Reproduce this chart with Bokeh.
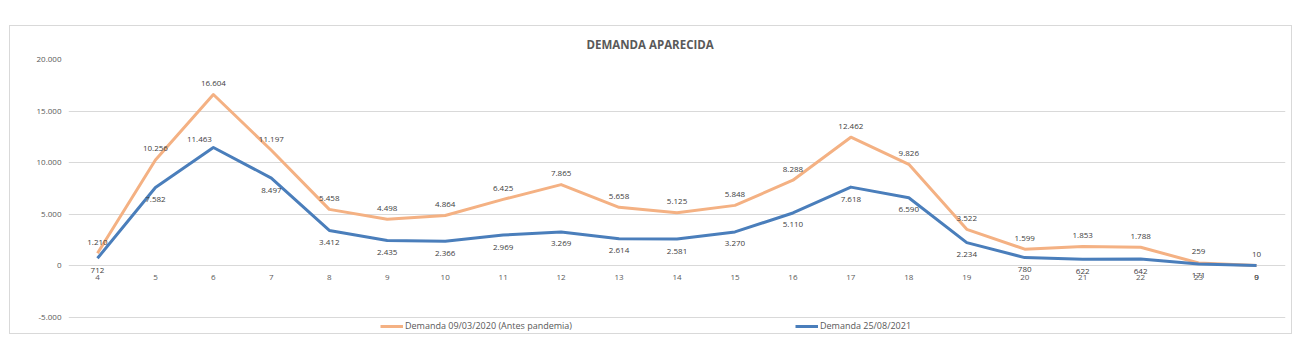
from bokeh.plotting import figure
from bokeh.models import (ColumnDataSource, Legend, LegendItem, FixedTicker, Title, Range1d)
from bokeh.core.properties import value
from bokeh.embed import file_html
from bokeh.resources import INLINE

# ---- data ----
hours = ["4", "5", "6", "7", "8", "9", "10", "11", "12", "13", "14", "15",
         "16", "17", "18", "19", "20", "21", "22", "23", "0"]
demanda_2020 = [1210, 10256, 16604, 11197, 5458, 4498, 4864, 6425, 7865, 5658, 5125,
                5848, 8288, 12462, 9826, 3522, 1599, 1853, 1788, 259, 10]
demanda_2021 = [712, 7582, 11463, 8497, 3412, 2435, 2366, 2969, 3269, 2614, 2581,
                3270, 5110, 7618, 6590, 2234, 780, 622, 642, 171, 9]
y_ticks = [-5000, 0, 5000, 10000, 15000, 20000]
y_tick_labels = ["-5.000", "0", "5.000", "10.000", "15.000", "20.000"]
title_text = "DEMANDA APARECIDA"
name_2020 = "Demanda 09/03/2020 (Antes pandemia)"
name_2021 = "Demanda 25/08/2021"

ORANGE = "#F4B183"
BLUE = "#4A7EBB"
GRID = "#D9D9D9"
TXT = "#595959"
FONT = "Open Sans"


def fmt(v):
    return f"{v:,}".replace(",", ".")


idx = list(range(len(hours)))
src = ColumnDataSource(dict(
    x=idx, cat=hours, zero=[0] * len(hours),
    o=demanda_2020, b=demanda_2021,
    ol=[fmt(v) for v in demanda_2020], bl=[fmt(v) for v in demanda_2021],
))

p = figure(width=1283, height=309, output_backend="svg", toolbar_location=None,
           x_range=Range1d(-0.5, len(hours) - 0.5), y_range=Range1d(-6680, 20000),
           x_axis_location=None, min_border_left=58, min_border_right=8,
           min_border_top=33, min_border_bottom=1)
p.margin = (25, 0, 0, 9)
p.styles = {"border": f"1px solid {GRID}"}
p.outline_line_color = None
p.background_fill_color = "white"
p.border_fill_color = "white"

t = Title(text=title_text, align="left", offset=518, standoff=16, text_font=FONT,
          text_font_size="11.5px", text_font_style="bold", text_color=TXT)
p.add_layout(t, "above")

p.xgrid.visible = False
p.ygrid.ticker = FixedTicker(ticks=y_ticks)
p.ygrid.grid_line_color = GRID
p.ygrid.grid_line_width = 1
p.yaxis.ticker = FixedTicker(ticks=y_ticks)
p.yaxis.major_label_overrides = dict(zip(y_ticks, y_tick_labels))
p.yaxis.axis_line_color = None
p.yaxis.major_tick_line_color = None
p.yaxis.minor_tick_line_color = None
p.yaxis.major_tick_out = 0
p.yaxis.major_tick_in = 0
p.yaxis.major_label_standoff = 7
p.yaxis.major_label_text_font = FONT
p.yaxis.major_label_text_font_size = "8px"
p.yaxis.major_label_text_color = TXT

r_o = p.line("x", "o", source=src, line_color=ORANGE, line_width=3, line_join="round")
r_b = p.line("x", "b", source=src, line_color=BLUE, line_width=3, line_join="round")

# category labels along the zero line
p.text("x", "zero", text="cat", source=src, text_font=value(FONT), text_font_size="8px",
       text_color=TXT, text_align="center", text_baseline="middle", y_offset=12)

# data labels
p.text("x", "o", text="ol", source=src, text_font=value(FONT), text_font_size="8px",
       text_color="#404040", text_align="center", text_baseline="middle", y_offset=-11)

peak = demanda_2021.index(max(demanda_2021))
bx = [i for i in idx if i != peak]
bsrc = ColumnDataSource(dict(x=bx, y=[demanda_2021[i] for i in bx],
                             t=[fmt(demanda_2021[i]) for i in bx]))
p.text("x", "y", text="t", source=bsrc, text_font=value(FONT), text_font_size="8px",
       text_color="#404040", text_align="center", text_baseline="middle", y_offset=12)
psrc = ColumnDataSource(dict(x=[peak], y=[demanda_2021[peak]], t=[fmt(demanda_2021[peak])]))
p.text("x", "y", text="t", source=psrc, text_font=value(FONT), text_font_size="8px",
       text_color="#404040", text_align="center", text_baseline="middle",
       x_offset=-14, y_offset=-8)

for r, name, loc in ((r_o, name_2020, (312, 2)), (r_b, name_2021, (727, 2))):
    lg = Legend(items=[LegendItem(label=name, renderers=[r])], location=loc,
                orientation="horizontal", border_line_color=None,
                background_fill_alpha=0, padding=0, margin=0, glyph_width=23,
                glyph_height=12, label_height=12, label_standoff=2,
                label_text_font=FONT, label_text_font_size="9px",
                label_text_color=TXT)
    p.add_layout(lg, "center")

open("out.html", "w").write(file_html(p, INLINE))
